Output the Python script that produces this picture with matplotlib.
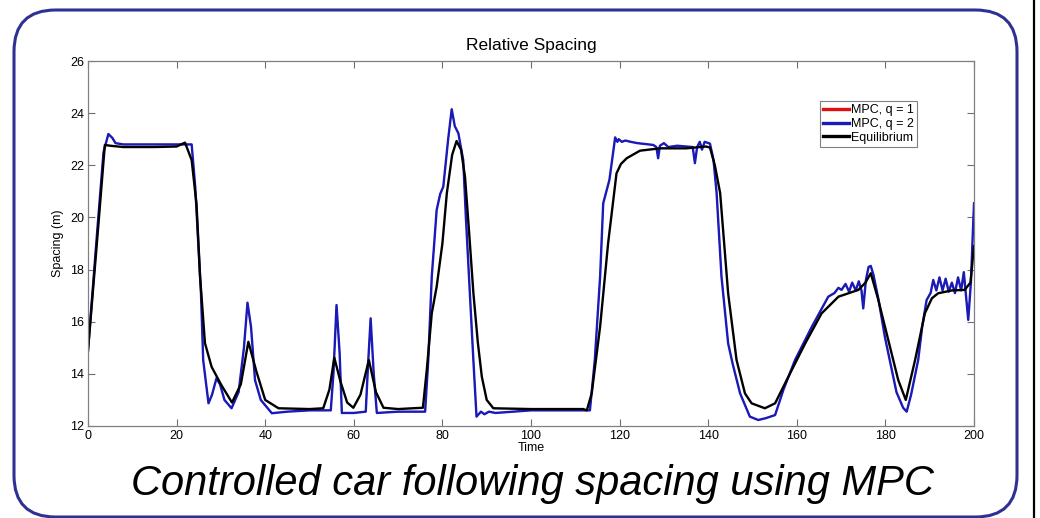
import matplotlib
matplotlib.use("Agg")
import matplotlib.pyplot as plt
from matplotlib.patches import FancyBboxPatch
from matplotlib.lines import Line2D

# ---------------- data ----------------
t_eq = [0, 2.0, 3.8, 5, 8, 15, 20, 21.9, 23.4, 24.5, 25.3, 26.4, 27.9, 30, 32.5,
        34.5, 36.2, 38, 40, 43, 50, 53.1, 54.5, 55.6, 57, 58.5, 59.9, 61.5, 63.4,
        65, 66.7, 70, 75.6, 76.5, 77.6, 78.7, 80, 81.0, 82.2, 83.2, 84.2, 85.1,
        86.0, 87.0, 88.0, 88.9, 90, 91.5, 100, 111.8, 112.6, 113.7, 115.6, 117.4,
        119.3, 120.3, 121.6, 124.6, 129.1, 135, 139.5, 140.4, 141.5, 142.7, 144.5,
        146.4, 148.3, 149.8, 152.8, 155.1, 158.1, 161.9, 165.6, 169.4, 173.9,
        175.5, 176.7, 178.3, 179.9, 182.9, 184.6, 186.7, 188.9, 190.5, 191.9, 195,
        197.9, 199.2, 200]
equilibrium = [14.9, 19.0, 22.78, 22.75, 22.7, 22.7, 22.72, 22.87, 22.2, 20.5,
               17.73, 15.18, 14.27, 13.6, 12.9, 13.6, 15.23, 14.1, 13.0, 12.68,
               12.65, 12.68, 13.4, 14.62, 13.7, 12.9, 12.7, 13.2, 14.53, 13.3, 12.7,
               12.65, 12.7, 14.2, 16.32, 17.34, 19.0, 20.93, 22.4, 22.93, 22.6, 21.56,
               19.5, 17.09, 15.2, 13.89, 13.0, 12.68, 12.65, 12.65, 12.6, 13.25,
               15.81, 19.0, 21.69, 22.05, 22.27, 22.56, 22.65, 22.65, 22.72, 22.68,
               22.0, 20.93, 17.09, 14.53, 13.25, 12.87, 12.68, 12.87, 13.89, 15.17,
               16.32, 16.96, 17.22, 17.5, 17.86, 16.9, 15.81, 13.76, 13.0, 14.53,
               16.32, 16.9, 17.09, 17.2, 17.22, 17.5, 18.9]

t_mpc = [0, 2.0, 3.5, 4.6, 5.5, 6.2, 8, 15, 20, 23.4, 24.2, 25.5, 26.0, 27.2, 28.0,
         29.0, 29.8, 30.8, 32.4, 34.0, 35.2, 36.0, 36.8, 37.7, 39.0, 41.5, 45, 50,
         54.8, 55.4, 56.1, 56.8, 57.3, 60, 62.7, 63.2, 63.8, 64.5, 65.2, 70, 76.1,
         76.8, 77.6, 78.7, 79.5, 80.2, 81.3, 82.1, 82.8, 83.6, 84.7, 85.3, 86.2,
         87.0, 87.7, 88.7, 89.5, 90.5, 92, 100, 113.3, 114.4, 115.6, 116.3, 117.7,
         119.0, 119.5, 119.8, 120.5, 121.3, 122.5, 124, 127.6, 128.3, 128.7, 129.1,
         130, 131, 133, 136.5, 137.0, 137.5, 138.1, 138.6, 139.2, 140.4, 141.2,
         141.9, 143.0, 144.5, 145.5, 147.2, 149.4, 151.3, 153, 155.1, 157, 159.6,
         163.4, 167.1, 168.5, 169.4, 170.1, 171.0, 171.8, 172.5, 173.3, 174.0,
         174.6, 175.0, 175.6, 176.2, 176.7, 177.3, 178.5, 179.9, 182.5, 184.0,
         184.8, 185.8, 187.4, 188.3, 189.3, 190.2, 190.8, 191.5, 192.2, 192.9,
         193.6, 194.3, 195.0, 195.7, 196.4, 197.1, 197.7, 198.2, 198.7, 199.3, 200]
mpc_q2 = [14.9, 19.3, 22.5, 23.2, 23.05, 22.85, 22.8, 22.8, 22.8, 22.8, 21.18,
          17.1, 14.53, 12.87, 13.2, 13.83, 13.6, 13.0, 12.68, 13.3, 15.0, 16.73,
          15.8, 13.76, 13.0, 12.49, 12.55, 12.6, 12.6, 14.0, 16.64, 14.8, 12.5,
          12.5, 12.55, 14.3, 16.13, 14.0, 12.5, 12.55, 12.55, 14.5, 17.73, 20.28,
          20.9, 21.18, 23.0, 24.15, 23.5, 23.23, 22.2, 20.0, 17.1, 14.5, 12.36,
          12.55, 12.45, 12.55, 12.5, 12.6, 12.6, 14.53, 17.73, 20.54, 21.44, 23.07,
          22.9, 23.0, 22.9, 22.95, 22.9, 22.85, 22.78, 22.7, 22.27, 22.75, 22.85,
          22.7, 22.75, 22.7, 22.08, 22.7, 22.9, 22.6, 22.9, 22.83, 22.2, 20.93,
          17.73, 15.17, 14.4, 13.25, 12.36, 12.23, 12.3, 12.42, 13.4, 14.53, 15.81,
          16.96, 17.1, 17.3, 17.22, 17.45, 17.15, 17.5, 17.2, 17.55, 17.2, 16.51,
          17.6, 18.1, 18.14, 17.8, 16.8, 15.4, 13.3, 12.7, 12.55, 13.2, 14.53,
          15.8, 16.83, 17.1, 17.6, 17.2, 17.7, 17.2, 17.65, 17.15, 17.5, 17.1,
          17.7, 17.2, 17.9, 17.0, 16.07, 17.5, 20.54]
# q = 1 trace lies underneath the q = 2 trace in the reference
mpc_q1 = list(mpc_q2)

labels = ["MPC, q = 1", "MPC, q = 2", "Equilibrium"]
x_ticks = [0, 20, 40, 60, 80, 100, 120, 140, 160, 180, 200]
y_ticks = [12, 14, 16, 18, 20, 22, 24, 26]

# ---------------- figure ----------------
plt.rcParams['font.family'] = ['Liberation Sans', 'DejaVu Sans']
W, H = 1040, 518
fig = plt.figure(figsize=(W / 100, H / 100), dpi=100)
fig.patch.set_facecolor('white')

# rounded frame
frame = FancyBboxPatch((14 / W, 1 / H), (1017 - 14) / W, (508 - 1) / H,
                       boxstyle="round,pad=0,rounding_size=0.04",
                       transform=fig.transFigure, facecolor='none',
                       edgecolor='#2E3192', linewidth=2.2, mutation_aspect=W / H)
fig.patches.append(frame)
# black vertical line at right edge
fig.add_artist(Line2D([1034 / W, 1034 / W], [0, 1], transform=fig.transFigure,
                      color='black', linewidth=1.6))

ax = fig.add_axes([88 / W, (H - 426) / H, (974 - 88) / W, (426 - 61) / H])
ax.plot(t_mpc, mpc_q1, color='#e01010', linewidth=0.8, label=labels[0])
ax.plot(t_mpc, mpc_q2, color='#1a1ab8', linewidth=1.7, label=labels[1])
ax.plot(t_eq, equilibrium, color='black', linewidth=1.7, label=labels[2])

ax.set_xlim(0, 200)
ax.set_ylim(12, 26)
ax.set_xticks(x_ticks)
ax.set_yticks(y_ticks)
ax.tick_params(direction='in', length=5, width=0.8, colors='#707070',
               labelcolor='black', labelsize=9, top=True, right=True, pad=3)
for s in ax.spines.values():
    s.set_color('#808080')
    s.set_linewidth(0.9)

ax.set_title("Relative Spacing", fontsize=12.5, pad=8)
ax.set_xlabel("Time", fontsize=9, labelpad=0)
ax.set_ylabel("Spacing (m)", fontsize=9, labelpad=4)

leg = ax.legend(loc='upper left', bbox_to_anchor=(820 / W, 1 - 101 / H),
                bbox_transform=fig.transFigure, fontsize=9, frameon=True,
                fancybox=False, shadow=False, handlelength=2.1, handletextpad=0.1,
                borderpad=0.25, labelspacing=0.15, borderaxespad=0)
leg.get_frame().set_edgecolor('#606060')
leg.get_frame().set_linewidth(0.8)
for line in leg.get_lines():
    line.set_linewidth(2.4)

fig.text(532 / W, 1 - 484 / H, "Controlled car following spacing using MPC",
         fontsize=30, fontstyle='italic', ha='center', va='center')

fig.savefig("out.png", dpi=100)
